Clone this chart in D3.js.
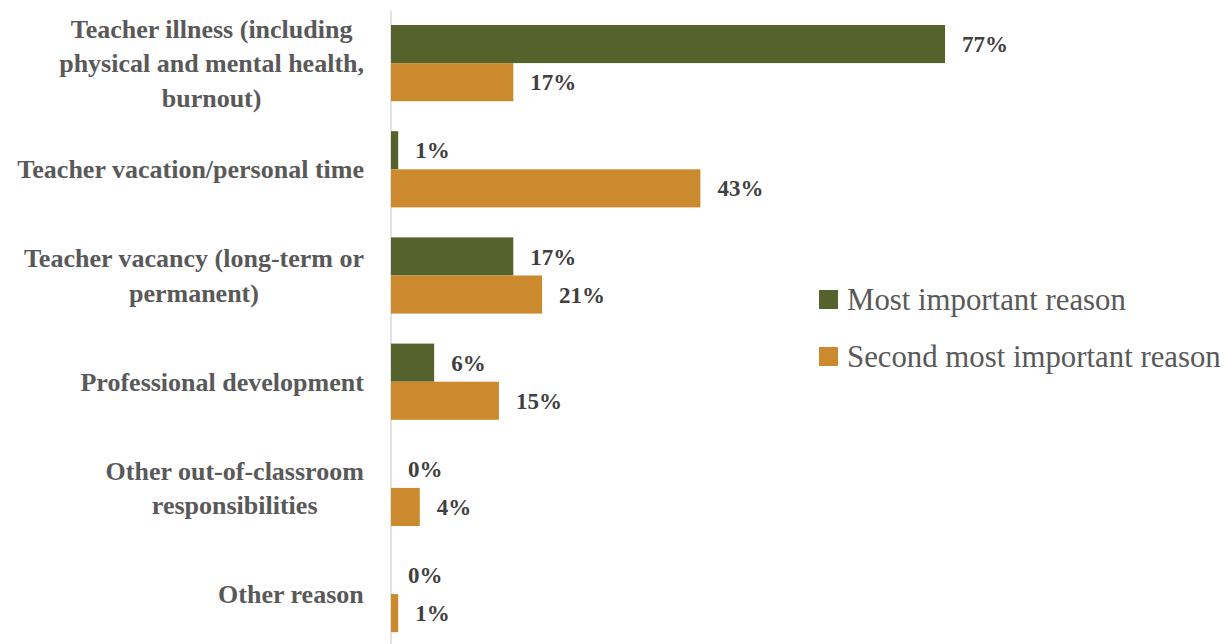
<!DOCTYPE html>
<html><head><meta charset="utf-8">
<script src="https://cdn.jsdelivr.net/npm/d3@7"></script>
<style>body{margin:0;background:#fff}svg{display:block}</style>
</head><body>
<svg id="c" width="1228" height="644"></svg>
<script>
const categories = [
  ["Teacher illness (including", "physical and mental health,", "burnout)"],
  ["Teacher vacation/personal time"],
  ["Teacher vacancy (long-term or", "permanent)"],
  ["Professional development"],
  ["Other out-of-classroom", "responsibilities"],
  ["Other reason"]
];
const seriesNames = ["Most important reason", "Second most important reason"];
const mostImportant = [77, 1, 17, 6, 0, 0];
const secondMost = [17, 43, 21, 15, 4, 1];
const colors = ["#55622b", "#cc8a2e"];

const svg = d3.select("#c");
const keys = categories.map((c, i) => "c" + i);
const x = d3.scaleLinear().domain([0, 100]).range([391, 1110.5]);
const y = d3.scaleBand().domain(keys).range([10, 647.2]).paddingInner(0.2825).paddingOuter(0.14125);
const ys = d3.scaleBand().domain(seriesNames).range([0, y.bandwidth()]);
const serif = "'Liberation Serif','Times New Roman',serif";

// axis
const ax = svg.append("g").attr("transform", "translate(390.5,0)")
  .call(d3.axisLeft(y).tickSize(0).tickFormat(""));
ax.select(".domain").attr("stroke", "#d9d9d9").attr("stroke-width", 1.5);

const data = [mostImportant, secondMost];
data.forEach((vals, si) => {
  const g = svg.append("g");
  g.selectAll("rect").data(vals).join("rect")
    .attr("x", x(0))
    .attr("y", (d, i) => y(keys[i]) + ys(seriesNames[si]))
    .attr("width", d => x(d) - x(0))
    .attr("height", ys.bandwidth())
    .attr("fill", colors[si]);
  g.selectAll("text").data(vals).join("text")
    .attr("x", d => x(d) + 17)
    .attr("y", (d, i) => y(keys[i]) + ys(seriesNames[si]) + ys.bandwidth() / 2)
    .attr("dy", "0.35em")
    .attr("font-family", serif).attr("font-weight", "bold").attr("font-size", 23)
    .attr("fill", "#404040")
    .text(d => d + "%");
});

// category labels
const lh = 34.5;
categories.forEach((lines, i) => {
  const cy = y(keys[i]) + y.bandwidth() / 2;
  const t = svg.append("text")
    .attr("font-family", serif).attr("font-weight", "bold").attr("font-size", 26)
    .attr("fill", "#595959").attr("text-anchor", "middle");
  lines.forEach((ln, j) => {
    t.append("tspan").attr("x", 0).attr("y", cy + (j - (lines.length - 1) / 2) * lh).attr("dy", "0.35em").text(ln);
  });
  const w = t.node().getBBox().width;
  t.selectAll("tspan").attr("x", 364 - w / 2);
});

// legend
const lg = svg.append("g");
seriesNames.forEach((s, i) => {
  const yy = 299.5 + i * 57;
  lg.append("rect").attr("x", 819).attr("y", yy - 9.5).attr("width", 19).attr("height", 19).attr("fill", colors[i]);
  lg.append("text").attr("x", 847).attr("y", yy).attr("dy", "0.35em")
    .attr("font-family", serif).attr("font-size", 30.8).attr("fill", "#595959").text(s);
});
</script>
</body></html>
